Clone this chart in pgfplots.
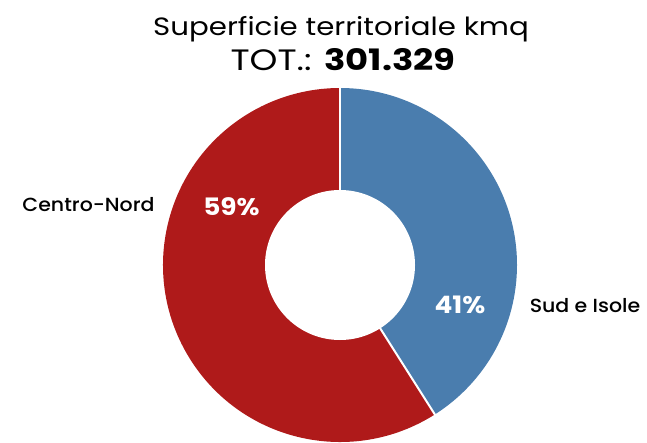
\documentclass[border=0pt]{standalone}
\usepackage{fontspec}
\setmainfont{Poppins}
\newfontfamily\titlefont[FakeStretch=1.17]{Poppins}
\newfontfamily\totfont[FakeStretch=1.2]{Poppins}
\newfontfamily\labfont[FakeStretch=1.08,UprightFont=* Medium]{Poppins}
\newfontfamily\pctfont[FakeStretch=1.1]{Poppins}
\usepackage{pgfplots}
\pgfplotsset{compat=1.18}
\definecolor{cred}{HTML}{AF1A1A}
\definecolor{cblue}{HTML}{4A7DAE}
\def\sudval{41}
\def\nordval{59}
\begin{document}
\begin{tikzpicture}
\begin{axis}[x=1pt,y=1pt,xmin=0,xmax=647,ymin=0,ymax=442,hide axis,clip=true]
\path (rel axis cs:0,0) (rel axis cs:1,1);
\pgfmathsetmacro{\endang}{90-3.6*\sudval}
\pgfmathsetmacro{\endred}{\endang-3.6*\nordval}
\fill[cblue] (axis cs:340,177) -- ++(90:177pt) arc[start angle=90,end angle=\endang,radius=177pt] -- cycle;
\fill[cred] (axis cs:340,177) -- ++(\endang:177pt) arc[start angle=\endang,end angle=\endred,radius=177pt] -- cycle;
\draw[white,line width=2pt] (axis cs:340,177) -- ++(90:180pt);
\draw[white,line width=2pt] (axis cs:340,177) -- ++(\endang:180pt);
\fill[white] (axis cs:340,177) circle[radius=75pt];
\node[white,font=\pctfont\bfseries\fontsize{24}{26}\selectfont] at (axis cs:231.5,235) {\nordval\%};
\node[white,font=\pctfont\bfseries\fontsize{24}{26}\selectfont] at (axis cs:460,137) {\sudval\%};
\node[black,font=\labfont\fontsize{19}{21}\selectfont] at (axis cs:88.5,237) {Centro-Nord};
\node[black,font=\labfont\fontsize{19}{21}\selectfont] at (axis cs:585,136) {Sud e Isole};
\node[black,font=\titlefont\fontsize{25}{27}\selectfont] at (axis cs:341,413) {Superficie territoriale kmq};
\node[black,font=\totfont\fontsize{29.5}{31}\selectfont] at (axis cs:343,382) {TOT.: \textbf{301.329}};
\end{axis}
\end{tikzpicture}
\end{document}
